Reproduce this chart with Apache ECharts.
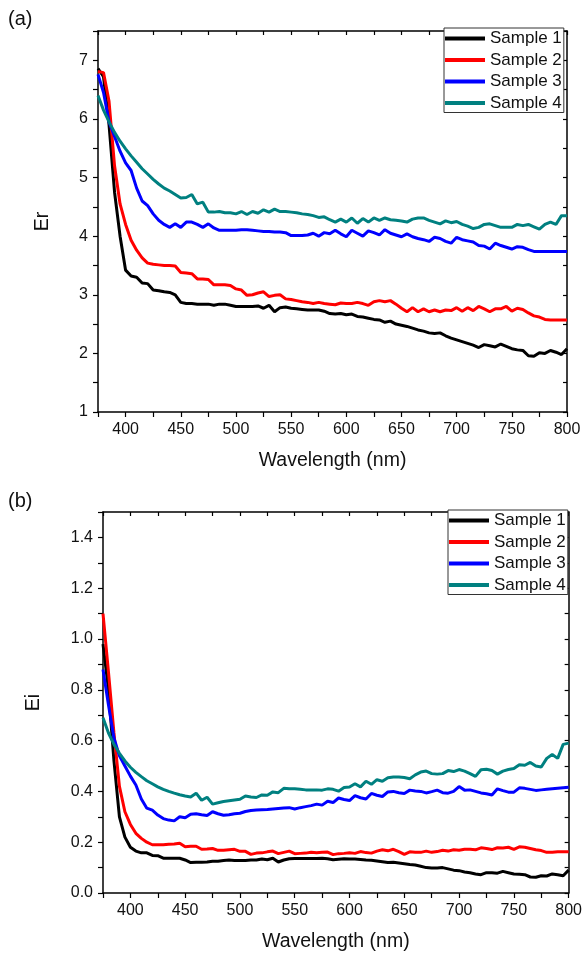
<!DOCTYPE html>
<html>
<head>
<meta charset="utf-8">
<script src="https://cdn.jsdelivr.net/npm/echarts@6/dist/echarts.min.js"></script>
<style>
html,body{margin:0;padding:0;background:#fff;}
#chart{width:585px;height:955px;}
</style>
</head>
<body>
<div id="chart"></div>
<script>
// Wavelength (nm)
const wavelength = [
  375,380,385,390,395,400,405,410,415,420,
  425,430,435,440,445,450,455,460,465,470,
  475,480,485,490,495,500,505,510,515,520,
  525,530,535,540,545,550,555,560,565,570,
  575,580,585,590,595,600,605,610,615,620,
  625,630,635,640,645,650,655,660,665,670,
  675,680,685,690,695,700,705,710,715,720,
  725,730,735,740,745,750,755,760,765,770,
  775,780,785,790,795,800
];
const seriesNames = ['Sample 1','Sample 2','Sample 3','Sample 4'];
const seriesColors = ['#000000','#ff0000','#0000ff','#008080'];

// (a) Er
const erSample1 = [
  6.86,6.72,5.9,4.75,4.0,3.42,3.32,3.3,3.2,3.19,
  3.08,3.07,3.05,3.04,3.0,2.87,2.85,2.85,2.84,2.84,
  2.84,2.82,2.84,2.84,2.82,2.8,2.8,2.8,2.8,2.81,
  2.77,2.82,2.71,2.78,2.79,2.77,2.76,2.75,2.74,2.74,
  2.74,2.72,2.68,2.67,2.68,2.66,2.67,2.63,2.62,2.6,
  2.58,2.57,2.53,2.55,2.5,2.48,2.46,2.43,2.4,2.38,
  2.35,2.34,2.35,2.3,2.26,2.23,2.2,2.17,2.14,2.1,
  2.15,2.13,2.11,2.16,2.12,2.08,2.06,2.05,1.96,1.95,
  2.01,2.0,2.05,2.02,1.98,2.08
];
const erSample2 = [
  6.81,6.79,6.3,5.2,4.55,4.2,3.93,3.76,3.63,3.54,
  3.52,3.51,3.5,3.5,3.49,3.38,3.37,3.36,3.27,3.27,
  3.26,3.17,3.17,3.17,3.16,3.1,3.08,2.99,3.0,3.03,
  3.05,2.97,2.99,3.0,2.93,2.92,2.9,2.88,2.87,2.85,
  2.87,2.85,2.84,2.83,2.86,2.85,2.85,2.87,2.85,2.82,
  2.88,2.9,2.88,2.9,2.84,2.77,2.71,2.78,2.71,2.76,
  2.71,2.74,2.71,2.74,2.73,2.78,2.72,2.78,2.73,2.8,
  2.76,2.71,2.76,2.76,2.8,2.72,2.77,2.75,2.69,2.64,
  2.62,2.58,2.57,2.57,2.57,2.57
];
const erSample3 = [
  6.76,6.45,5.95,5.7,5.45,5.25,5.12,4.82,4.6,4.52,
  4.38,4.27,4.2,4.15,4.21,4.15,4.24,4.24,4.2,4.15,
  4.21,4.14,4.1,4.1,4.1,4.1,4.11,4.11,4.1,4.09,
  4.08,4.08,4.07,4.07,4.06,4.01,4.01,4.01,4.02,4.05,
  4.0,4.06,4.04,4.1,4.04,3.99,4.1,4.05,4.0,4.09,
  4.06,4.02,4.11,4.05,4.02,3.99,4.04,3.99,3.96,3.94,
  3.91,3.98,3.96,3.91,3.88,3.98,3.94,3.92,3.9,3.84,
  3.83,3.78,3.88,3.84,3.81,3.78,3.82,3.81,3.77,3.74,
  3.74,3.74,3.74,3.74,3.74,3.74
];
const erSample4 = [
  6.4,6.15,5.95,5.77,5.62,5.49,5.37,5.26,5.15,5.06,
  4.97,4.89,4.82,4.77,4.71,4.65,4.66,4.71,4.55,4.58,
  4.41,4.41,4.42,4.4,4.4,4.38,4.42,4.37,4.42,4.39,
  4.45,4.41,4.46,4.42,4.42,4.41,4.4,4.38,4.37,4.35,
  4.32,4.33,4.28,4.24,4.29,4.24,4.31,4.22,4.3,4.24,
  4.31,4.27,4.31,4.28,4.27,4.26,4.24,4.29,4.31,4.31,
  4.27,4.24,4.21,4.26,4.23,4.25,4.2,4.17,4.13,4.15,
  4.2,4.21,4.18,4.15,4.15,4.15,4.2,4.18,4.2,4.16,
  4.12,4.2,4.24,4.2,4.35,4.35
];

// (b) Ei
const eiSample1 = [
  0.98,0.8,0.52,0.3,0.22,0.18,0.165,0.158,0.158,0.148,
  0.147,0.137,0.137,0.137,0.137,0.13,0.12,0.121,0.121,0.122,
  0.125,0.125,0.128,0.13,0.128,0.128,0.128,0.13,0.13,0.134,
  0.131,0.137,0.122,0.13,0.135,0.136,0.136,0.136,0.136,0.136,
  0.137,0.135,0.131,0.133,0.135,0.134,0.134,0.132,0.13,0.129,
  0.126,0.123,0.12,0.121,0.118,0.115,0.112,0.11,0.105,0.1,
  0.098,0.098,0.1,0.095,0.09,0.088,0.083,0.08,0.075,0.072,
  0.08,0.08,0.078,0.085,0.08,0.075,0.074,0.072,0.063,0.062,
  0.068,0.067,0.075,0.072,0.068,0.09
];
const eiSample2 = [
  1.1,0.87,0.63,0.42,0.32,0.27,0.235,0.215,0.2,0.19,
  0.19,0.19,0.192,0.193,0.196,0.182,0.184,0.184,0.172,0.173,
  0.175,0.168,0.168,0.17,0.172,0.164,0.164,0.152,0.157,0.158,
  0.162,0.165,0.155,0.16,0.165,0.155,0.156,0.157,0.16,0.158,
  0.16,0.161,0.151,0.155,0.156,0.158,0.156,0.163,0.159,0.157,
  0.165,0.17,0.166,0.172,0.163,0.152,0.162,0.16,0.16,0.165,
  0.16,0.163,0.168,0.165,0.17,0.168,0.172,0.172,0.17,0.178,
  0.175,0.171,0.178,0.177,0.18,0.172,0.182,0.18,0.175,0.17,
  0.167,0.16,0.16,0.162,0.162,0.162
];
const eiSample3 = [
  0.88,0.74,0.61,0.54,0.5,0.46,0.425,0.37,0.334,0.326,
  0.307,0.293,0.287,0.284,0.3,0.296,0.31,0.312,0.308,0.305,
  0.32,0.312,0.306,0.308,0.312,0.314,0.321,0.325,0.327,0.328,
  0.329,0.331,0.333,0.335,0.336,0.331,0.336,0.34,0.344,0.35,
  0.346,0.361,0.356,0.374,0.368,0.364,0.383,0.375,0.37,0.392,
  0.385,0.38,0.398,0.4,0.395,0.392,0.405,0.402,0.4,0.394,
  0.399,0.405,0.395,0.393,0.4,0.419,0.405,0.406,0.4,0.394,
  0.391,0.386,0.41,0.403,0.397,0.397,0.414,0.412,0.408,0.404,
  0.406,0.408,0.41,0.412,0.414,0.416
];
const eiSample4 = [
  0.69,0.63,0.585,0.55,0.52,0.495,0.475,0.458,0.442,0.43,
  0.418,0.408,0.4,0.393,0.387,0.382,0.378,0.393,0.365,0.377,
  0.35,0.355,0.36,0.363,0.366,0.369,0.382,0.378,0.376,0.386,
  0.385,0.398,0.395,0.412,0.41,0.41,0.408,0.406,0.406,0.406,
  0.405,0.41,0.408,0.401,0.415,0.417,0.43,0.418,0.44,0.428,
  0.446,0.44,0.454,0.457,0.457,0.455,0.45,0.465,0.476,0.48,
  0.47,0.468,0.47,0.482,0.478,0.486,0.48,0.47,0.459,0.485,
  0.487,0.482,0.468,0.48,0.486,0.49,0.505,0.503,0.514,0.5,
  0.496,0.53,0.545,0.53,0.585,0.59
];

const erData = [erSample1, erSample2, erSample3, erSample4];
const eiData = [eiSample1, eiSample2, eiSample3, eiSample4];

const FONT = 'Liberation Sans, Arial, sans-serif';
const TXT = '#111';

function pairs(vals){ return wavelength.map((w,i)=>[w, vals[i]]); }

function xAxes(g){
  return [
    {
      gridIndex:g, type:'value', min:375, max:800, interval:25, position:'bottom',
      name:'Wavelength (nm)', nameLocation:'middle', nameGap:39,
      nameTextStyle:{fontFamily:FONT, fontSize:19.5, color:TXT},
      axisLine:{show:true, onZero:false, lineStyle:{color:'#000', width:1.5}},
      axisTick:{show:true, inside:false, length:5, lineStyle:{color:'#000', width:1.2}},
      axisLabel:{fontFamily:FONT, fontSize:16, color:TXT, margin:10,
        formatter:v=> (Math.round(v)%50===0 ? String(Math.round(v)) : '')},
      splitLine:{show:false}
    },
    {
      gridIndex:g, type:'value', min:375, max:800, interval:25, position:'top',
      axisLine:{show:true, onZero:false, lineStyle:{color:'#000', width:1.5}},
      axisTick:{show:true, inside:true, length:4, lineStyle:{color:'#000', width:1.2}},
      axisLabel:{show:false}, splitLine:{show:false}
    }
  ];
}

function yAxes(g, min, max, interval, name, gap, fmt){
  return [
    {
      gridIndex:g, type:'value', min:min, max:max, interval:interval, position:'left',
      name:name, nameLocation:'middle', nameGap:gap,
      nameTextStyle:{fontFamily:FONT, fontSize:19.5, color:TXT},
      axisLine:{show:true, onZero:false, lineStyle:{color:'#000', width:1.5}},
      axisTick:{show:true, inside:false, length:5, lineStyle:{color:'#000', width:1.2}},
      axisLabel:{fontFamily:FONT, fontSize:16, color:TXT, margin:10, formatter:fmt},
      splitLine:{show:false}
    },
    {
      gridIndex:g, type:'value', min:min, max:max, interval:interval, position:'right',
      axisLine:{show:true, onZero:false, lineStyle:{color:'#000', width:1.5}},
      axisTick:{show:true, inside:true, length:4, lineStyle:{color:'#000', width:1.2}},
      axisLabel:{show:false}, splitLine:{show:false}
    }
  ];
}

const series = [];
erData.forEach((vals,i)=>{
  series.push({type:'line', name:seriesNames[i], xAxisIndex:0, yAxisIndex:0,
    data:pairs(vals), showSymbol:false, symbol:'none', color:seriesColors[i],
    lineStyle:{width:3, color:seriesColors[i]}, silent:true, animation:false});
});
eiData.forEach((vals,i)=>{
  series.push({type:'line', name:seriesNames[i], xAxisIndex:2, yAxisIndex:2,
    data:pairs(vals), showSymbol:false, symbol:'none', color:seriesColors[i],
    lineStyle:{width:3, color:seriesColors[i]}, silent:true, animation:false});
});

function legend(left, top){
  return {
    left:left, top:top, orient:'vertical', data:seriesNames,
    icon:'rect', itemWidth:40, itemHeight:4, itemGap:4.5,
    padding:[2,2,1,1], borderColor:'#333', borderWidth:1, backgroundColor:'#fff',
    textStyle:{fontFamily:FONT, fontSize:17, color:TXT, lineHeight:17},
    selectedMode:false
  };
}

const option = {
  animation:false,
  backgroundColor:'#fff',
  grid:[
    {left:98, top:31, width:469, height:381, containLabel:false},
    {left:103, top:512, width:469, height:381, containLabel:false}
  ],
  xAxis:[...xAxes(0), ...xAxes(1)],
  yAxis:[
    ...yAxes(0, 1, 7.5, 0.5, 'Er', 45, v=>{const r=Math.round(v*2); return r%2===0 ? String(r/2) : '';}),
    ...yAxes(1, 0, 1.5, 0.1, 'Ei', 59, v=>{const r=Math.round(v*10); return r%2===0 ? (r/10).toFixed(1) : '';})
  ],
  legend:[legend(444, 28), legend(448, 510)],
  graphic:[
    {type:'text', left:8, top:9, style:{text:'(a)', font:'20px '+FONT, fill:TXT}},
    {type:'text', left:8, top:491, style:{text:'(b)', font:'20px '+FONT, fill:TXT}}
  ],
  series:series
};

const chart = echarts.init(document.getElementById('chart'), null, {renderer:'canvas'});
chart.setOption(option);
</script>
</body>
</html>
